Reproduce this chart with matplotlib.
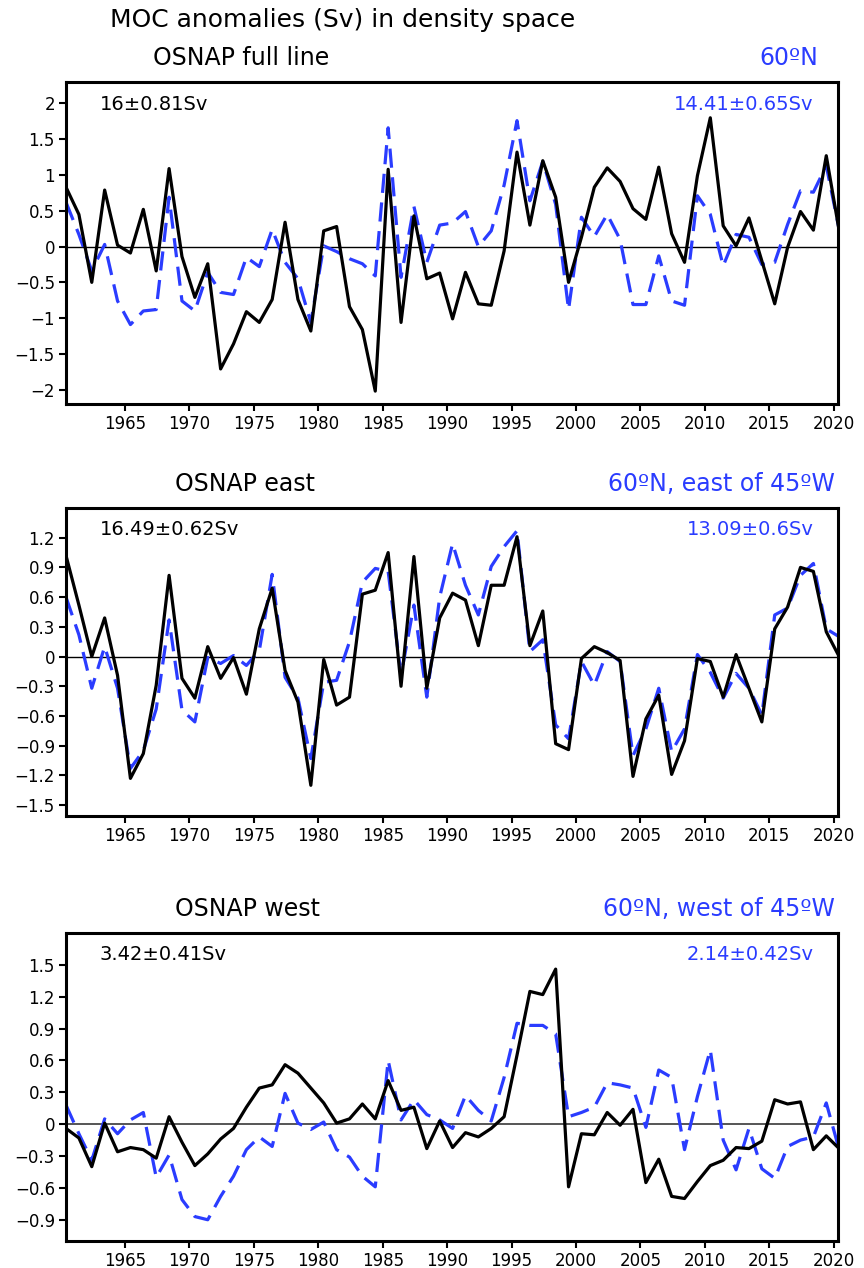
import numpy as np
import matplotlib
matplotlib.use("Agg")
import matplotlib.pyplot as plt
from matplotlib.ticker import FixedLocator, FixedFormatter

plt.rcParams['font.family'] = ['DejaVu Sans']

# annual MOC anomalies (Sv), 1960-2020
years = np.arange(1960, 2021)

full_model = [0.83, 0.45, -0.50, 0.79, 0.02, -0.09, 0.52, -0.34, 1.09, -0.14,
              -0.71, -0.24, -1.71, -1.36, -0.91, -1.06, -0.74, 0.34, -0.74, -1.18,
              0.22, 0.28, -0.84, -1.16, -2.02, 1.08, -1.06, 0.43, -0.45, -0.37,
              -1.01, -0.36, -0.80, -0.82, -0.06, 1.32, 0.30, 1.20, 0.69, -0.50,
              0.13, 0.83, 1.10, 0.91, 0.53, 0.38, 1.11, 0.18, -0.22, 0.99,
              1.80, 0.29, 0.01, 0.40, -0.20, -0.80, -0.01, 0.49, 0.23, 1.27,
              0.22]
full_60n = [0.62, 0.17, -0.34, 0.03, -0.76, -1.09, -0.90, -0.88, 0.69, -0.76,
            -0.90, -0.36, -0.64, -0.67, -0.15, -0.28, 0.24, -0.22, -0.45, -1.06,
            0.01, -0.07, -0.17, -0.24, -0.41, 1.66, -0.43, 0.56, -0.22, 0.30,
            0.33, 0.49, 0.00, 0.22, 0.86, 1.76, 0.64, 1.19, 0.59, -0.88,
            0.41, 0.14, 0.45, 0.10, -0.81, -0.81, -0.13, -0.76, -0.82, 0.71,
            0.45, -0.27, 0.17, 0.13, -0.25, -0.22, 0.31, 0.78, 0.76, 1.13,
            0.24]

east_model = [1.02, 0.52, 0.00, 0.39, -0.19, -1.23, -0.98, -0.29, 0.82, -0.22,
              -0.42, 0.10, -0.22, -0.01, -0.38, 0.28, 0.69, -0.14, -0.46, -1.30,
              -0.03, -0.49, -0.41, 0.63, 0.67, 1.05, -0.30, 1.01, -0.32, 0.39,
              0.64, 0.57, 0.11, 0.72, 0.72, 1.21, 0.11, 0.46, -0.88, -0.94,
              -0.02, 0.10, 0.04, -0.04, -1.21, -0.63, -0.39, -1.19, -0.85, -0.02,
              -0.05, -0.41, 0.02, -0.32, -0.66, 0.28, 0.50, 0.90, 0.86, 0.25,
              0.00]
east_60n = [0.60, 0.22, -0.32, 0.10, -0.32, -1.13, -0.95, -0.53, 0.37, -0.54,
            -0.66, -0.01, -0.07, 0.01, -0.09, 0.06, 0.83, -0.21, -0.42, -1.03,
            -0.26, -0.24, 0.15, 0.75, 0.89, 0.86, -0.19, 0.52, -0.41, 0.60,
            1.14, 0.72, 0.42, 0.91, 1.11, 1.27, 0.05, 0.17, -0.69, -0.83,
            -0.05, -0.29, 0.05, -0.05, -1.00, -0.73, -0.32, -0.96, -0.73, 0.02,
            -0.16, -0.42, -0.17, -0.32, -0.59, 0.42, 0.49, 0.82, 0.94, 0.28,
            0.20]

west_model = [-0.04, -0.13, -0.40, 0.01, -0.26, -0.22, -0.24, -0.32, 0.07, -0.17,
              -0.39, -0.28, -0.14, -0.04, 0.16, 0.34, 0.37, 0.56, 0.48, 0.34,
              0.20, 0.01, 0.05, 0.19, 0.05, 0.41, 0.13, 0.16, -0.23, 0.03,
              -0.22, -0.08, -0.12, -0.04, 0.07, 0.65, 1.25, 1.22, 1.46, -0.59,
              -0.09, -0.10, 0.11, -0.01, 0.14, -0.55, -0.33, -0.68, -0.70, -0.54,
              -0.39, -0.34, -0.22, -0.23, -0.16, 0.23, 0.19, 0.21, -0.24, -0.11,
              -0.23]
west_60n = [0.18, -0.09, -0.34, 0.05, -0.09, 0.04, 0.11, -0.50, -0.29, -0.71,
            -0.87, -0.90, -0.68, -0.49, -0.24, -0.12, -0.21, 0.29, 0.01, -0.05,
            0.02, -0.24, -0.31, -0.49, -0.59, 0.60, 0.04, 0.23, 0.09, 0.04,
            -0.04, 0.27, 0.13, 0.03, 0.44, 0.95, 0.93, 0.93, 0.85, 0.07,
            0.11, 0.16, 0.39, 0.37, 0.34, -0.03, 0.51, 0.44, -0.24, 0.26,
            0.70, -0.15, -0.43, -0.04, -0.42, -0.51, -0.21, -0.15, -0.12, 0.20,
            -0.24]

panel_titles = ["OSNAP full line", "OSNAP east", "OSNAP west"]
panel_regions = ["60ºN", "60ºN, east of 45ºW", "60ºN, west of 45ºW"]
model_means = ["16±0.81Sv", "16.49±0.62Sv", "3.42±0.41Sv"]
obs_means = ["14.41±0.65Sv", "13.09±0.6Sv", "2.14±0.42Sv"]

yticks_full = [-2, -1.5, -1, -0.5, 0, 0.5, 1, 1.5, 2]
ylabels_full = ["−2", "−1.5", "−1", "−0.5", "0", "0.5", "1", "1.5", "2"]
yticks_east = [-1.5, -1.2, -0.9, -0.6, -0.3, 0, 0.3, 0.6, 0.9, 1.2]
ylabels_east = ["−1.5", "−1.2", "−0.9", "−0.6", "−0.3", "0", "0.3", "0.6", "0.9", "1.2"]
yticks_west = [-0.9, -0.6, -0.3, 0, 0.3, 0.6, 0.9, 1.2, 1.5]
ylabels_west = ["−0.9", "−0.6", "−0.3", "0", "0.3", "0.6", "0.9", "1.2", "1.5"]
xticks = [1965, 1970, 1975, 1980, 1985, 1990, 1995, 2000, 2005, 2010, 2015, 2020]

BLUE = "#2a3cff"
W, H = 864, 1268

fig = plt.figure(figsize=(W / 100, H / 100), dpi=100)


def px_axes(left, top, right, bottom):
    return fig.add_axes([left / W, 1 - bottom / H, (right - left) / W, (bottom - top) / H])


panels = [
    (82, 404, full_model, full_60n, (-2.2, 2.3), yticks_full, ylabels_full, "black"),
    (508, 816, east_model, east_60n, (-1.61, 1.5), yticks_east, ylabels_east, "black"),
    (933, 1241, west_model, west_60n, (-1.1, 1.8), yticks_west, ylabels_west, "#555555"),
]

t = years + 0.42
for k, (top, bot, model, obs, ylim, yt, yl, zcol) in enumerate(panels):
    ax = px_axes(66, top, 838, bot)
    ax.axhline(0, color=zcol, lw=1.0 if k < 2 else 1.4, zorder=1)
    ax.plot(t, obs, color=BLUE, lw=2.3, dashes=(6, 3), zorder=2)
    ax.plot(t, model, color="black", lw=2.3, zorder=3)
    ax.set_xlim(1960.42, 2020.33)
    ax.set_ylim(*ylim)
    ax.xaxis.set_major_locator(FixedLocator(xticks))
    ax.yaxis.set_major_locator(FixedLocator(yt))
    ax.yaxis.set_major_formatter(FixedFormatter(yl))
    ax.tick_params(axis="both", direction="out", length=5, width=1.5,
                   labelsize=12, pad=3)
    for s in ax.spines.values():
        s.set_linewidth(2.2)

    ax.text(0.044, 0.93, model_means[k], transform=ax.transAxes,
            fontsize=14, color="black", va="center", ha="left")
    ax.text(0.968, 0.93, obs_means[k], transform=ax.transAxes,
            fontsize=14, color=BLUE, va="center", ha="right")

    # panel headings above each frame
    fig.text(175 / W if k else 153 / W, 1 - (top - 24) / H, panel_titles[k],
             fontsize=17, color="black", va="center", ha="left")
    fig.text(818 / W if k == 0 else 835 / W, 1 - (top - 24) / H, panel_regions[k],
             fontsize=17, color=BLUE, va="center", ha="right")

fig.text(110 / W, 1 - 20 / H, "MOC anomalies (Sv) in density space",
         fontsize=18, color="black", va="center", ha="left")

fig.savefig("out.png", dpi=100)
